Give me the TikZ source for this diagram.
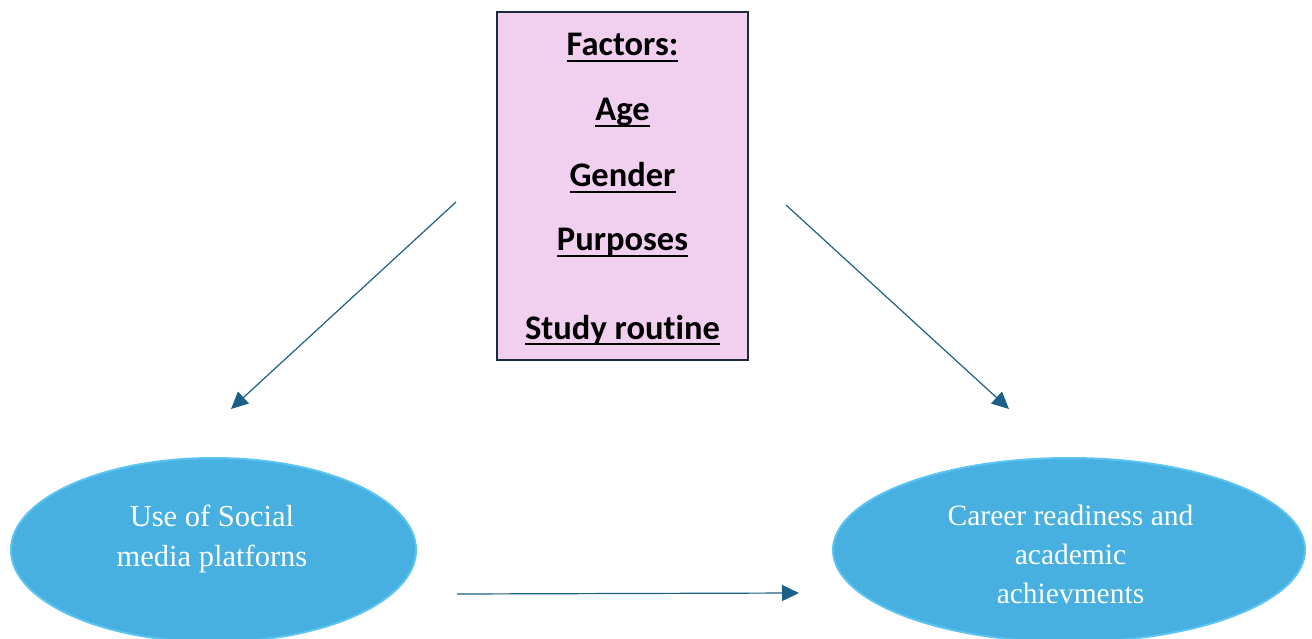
\documentclass[tikz,border=0pt]{standalone}
\usepackage{fontspec}
\setmainfont{Liberation Serif}
\newfontfamily\factorfont[Ligatures=NoCommon]{Carlito}
\usetikzlibrary{arrows.meta,shapes.geometric}

\definecolor{ovalfill}{HTML}{47B0E0}
\definecolor{ovaledge}{HTML}{5CC4F0}
\definecolor{boxfill}{HTML}{F1CFEE}
\definecolor{boxedge}{HTML}{1C2B3A}
\definecolor{linkcol}{HTML}{1B6088}

% underline drawn at a fixed depth, crossing descenders
\newcommand\factorul[1]{\setbox0\hbox{#1}\rlap{\rule[-6pt]{\wd0}{2.4pt}}\box0}

\tikzset{
  oval/.style={ellipse, draw=ovaledge, line width=2pt, fill=ovalfill, inner sep=0pt},
  ovaltext/.style={text=white, font=\fontsize{30.5}{39.5}\selectfont, align=center, anchor=base, inner sep=0pt},
  factorbox/.style={draw=boxedge, line width=2pt, fill=boxfill, inner sep=0pt},
  factor/.style={font=\factorfont\bfseries\fontsize{34.5}{40}\selectfont, anchor=base, inner sep=0pt},
  link/.style={draw=linkcol, line width=1.2pt, -{Triangle[length=17pt,width=16pt]}}
}

\begin{document}
\begin{tikzpicture}[x=1pt,y=-1pt]
\useasboundingbox (0,0) rectangle (1312,639);

% factors box
\node[factorbox, minimum width=251pt, minimum height=348pt] (factors) at (622.5,186) {};
\node[factor] (fhead) at (622.5,56)  {\factorul{Factors:}};
\node[factor] (fage)  at (622.5,121) {\factorul{Age}};
\node[factor] (fgen)  at (622.5,187) {\factorul{Gender}};
\node[factor] (fpur)  at (622.5,251) {\factorul{Purposes}};
\node[factor] (fstu)  at (622.5,339) {\factorul{Study routine}};

% outcome ovals (text anchored at the baseline of its last line)
\node[oval, minimum width=405pt, minimum height=184pt] (usage) at (213.5,550) {};
\node[ovaltext] (usagetext) at (212,566) {Use of Social\\media platforns};

\node[oval, minimum width=472pt, minimum height=184pt] (career) at (1069,550) {};
\node[ovaltext, font=\fontsize{29.5}{39}\selectfont] (careertext) at (1070.5,603) {Career readiness and\\academic\\achievments};

% free arrow ends
\coordinate (a1s) at (456,202);
\coordinate (a1e) at (231,409);
\coordinate (a2s) at (786,205);
\coordinate (a2e) at (1009,409);
\coordinate (a3s) at (457,594);
\coordinate (a3e) at (799,593);

\draw[link] (a1s) -- (a1e);
\draw[link] (a2s) -- (a2e);
\draw[link] (a3s) -- (a3e);
\end{tikzpicture}
\end{document}
